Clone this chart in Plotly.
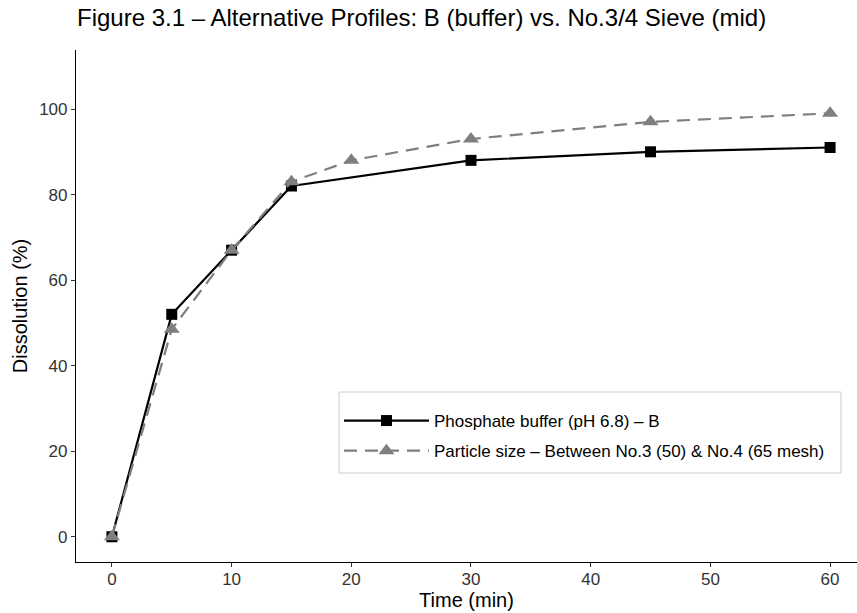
import plotly.graph_objects as go

time_buffer = [0, 5, 10, 15, 30, 45, 60]
diss_buffer = [0, 52, 67, 82, 88, 90, 91]
time_sieve = [0, 5, 10, 15, 20, 30, 45, 60]
diss_sieve = [0, 48.5, 67, 83, 88, 93, 97, 99]

name_buffer = "Phosphate buffer (pH 6.8) – B"
name_sieve = "Particle size – Between No.3 (50) & No.4 (65 mesh)"
x_ticks = [0, 10, 20, 30, 40, 50, 60]
y_ticks = [0, 20, 40, 60, 80, 100]

grey = "#7f7f7f"
fig = go.Figure()
fig.add_trace(go.Scatter(
    x=time_buffer, y=diss_buffer, name=name_buffer, mode="lines+markers",
    legendgroup="a",
    line=dict(color="black", width=2.2),
    marker=dict(symbol="square", size=11, color="black"),
))
fig.add_trace(go.Scatter(
    x=time_sieve, y=diss_sieve, name=name_sieve, mode="lines+markers",
    legendgroup="b",
    line=dict(color=grey, width=2.2, dash="13px,8px"),
    marker=dict(symbol="triangle-up", size=14, color=grey),
))

# plot area in pixels: x 76..857, y 50..562
W, H = 857, 613
L, R, T, B = 76, 857, 50, 562
pw, ph = R - L, B - T

def px_x(x):
    return (x - L) / pw

def px_y(y):
    return (B - y) / ph

font = "Liberation Sans, Arial, sans-serif"
fig.update_layout(
    width=W, height=H,
    margin=dict(l=L, r=W - R, t=T, b=H - B),
    plot_bgcolor="white", paper_bgcolor="white",
    font=dict(family=font, color="black"),
    title=dict(text="Figure 3.1 – Alternative Profiles: B (buffer) vs. No.3/4 Sieve (mid)",
               x=77/W, xanchor="left", xref="container",
               y=1-18/H, yanchor="middle", yref="container",
               font=dict(size=24, color="black")),
    legend=dict(x=px_x(339), xanchor="left", y=px_y(403), yanchor="top",
                borderwidth=0, bgcolor="rgba(0,0,0,0)",
                font=dict(size=17, color="black"), tracegroupgap=5,
                itemwidth=85),
    shapes=[dict(type="rect", xref="paper", yref="paper",
                 x0=px_x(339), x1=px_x(841), y0=px_y(473), y1=px_y(392),
                 line=dict(color="#cccccc", width=1), fillcolor="white",
                 layer="below")],
    showlegend=True,
)
fig.update_xaxes(
    range=[-3, 62.25], tickvals=x_ticks, showgrid=False, zeroline=False,
    showline=True, linecolor="black", linewidth=1.2,
    ticks="outside", ticklen=4, tickcolor="#333333",
    tickfont=dict(size=17, color="#333333"), ticklabelstandoff=-3,
    title=dict(text="Time (min)", font=dict(size=20), standoff=0),
)
fig.update_yaxes(
    range=[-5.9, 113.8], tickvals=y_ticks, showgrid=False, zeroline=False,
    showline=True, linecolor="black", linewidth=1.2,
    ticks="outside", ticklen=4, tickcolor="#333333",
    tickfont=dict(size=17, color="#333333"),
    title=dict(text="Dissolution (%)", font=dict(size=20), standoff=6),
)
fig.write_html("out.html")
